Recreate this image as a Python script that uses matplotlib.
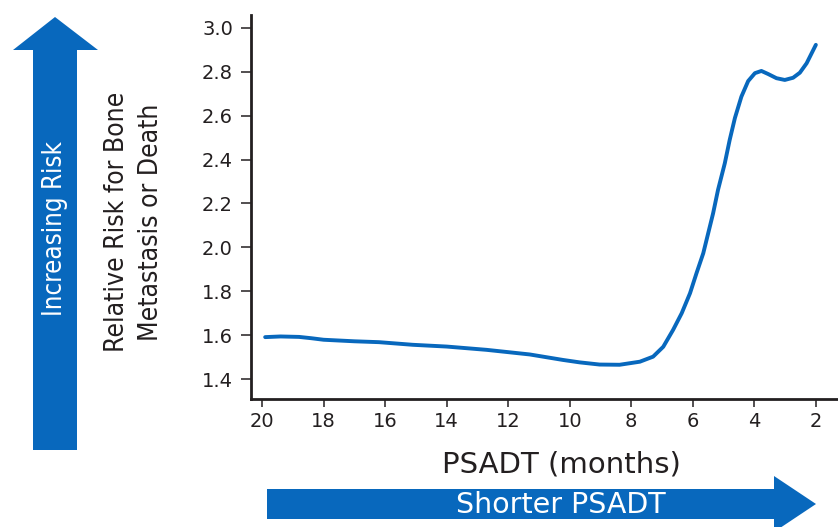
import matplotlib
matplotlib.use("Agg")
import matplotlib.pyplot as plt
from matplotlib.patches import Polygon

# PSADT (months) vs relative risk
psadt = [19.9, 19.4, 18.8, 18.4, 18.0, 17.0, 16.2, 15.1, 14.0, 12.7, 11.3,
         10.22, 9.68, 9.03, 8.38, 7.72, 7.29, 6.96, 6.64, 6.36, 6.09, 5.88,
         5.66, 5.50, 5.34, 5.18, 4.96, 4.80, 4.63, 4.42, 4.20, 3.98, 3.77,
         3.55, 3.28, 3.01, 2.74, 2.52, 2.30, 2.0]
risk = [1.591, 1.594, 1.592, 1.586, 1.579, 1.572, 1.568, 1.556, 1.548, 1.533, 1.512,
        1.487, 1.476, 1.466, 1.465, 1.479, 1.502, 1.547, 1.624, 1.700, 1.791, 1.882,
        1.973, 2.064, 2.155, 2.262, 2.383, 2.49, 2.59, 2.687, 2.758, 2.794, 2.804,
        2.790, 2.771, 2.763, 2.773, 2.796, 2.839, 2.923]

xticks = [20, 18, 16, 14, 12, 10, 8, 6, 4, 2]
yticks = [1.4, 1.6, 1.8, 2.0, 2.2, 2.4, 2.6, 2.8, 3.0]

W, H = 838, 527
BLUE = "#0868bd"
INK = "#231f20"


def fpos(x, y):
    # pixel position (from top-left) -> figure fraction
    return x / W, 1 - y / H


fig = plt.figure(figsize=(W / 100, H / 100), dpi=100)
ax = fig.add_axes([251 / W, 128 / H, 1 - 251 / W, (399 - 15) / H])

ax.plot(psadt, risk, color=BLUE, lw=2.8, solid_capstyle="round",
        solid_joinstyle="round")

ax.set_xlim(20.36, 1.28)
ax.set_ylim(1.309, 3.059)
ax.set_xticks(xticks)
ax.set_yticks(yticks)
ax.set_xticklabels([str(t) for t in xticks])
ax.set_yticklabels(["%.1f" % t for t in yticks])

for side in ["top", "right"]:
    ax.spines[side].set_visible(False)
for side in ["left", "bottom"]:
    ax.spines[side].set_linewidth(2.0)
    ax.spines[side].set_color(INK)

ax.tick_params(axis="x", length=6, width=1.1, pad=3.5, colors=INK, labelsize=14)
ax.tick_params(axis="y", length=7, width=1.1, pad=6, colors=INK, labelsize=14)

# axis labels
fig.text(*fpos(561, 472), "PSADT (months)", ha="center", va="baseline",
         fontsize=21, color=INK)
fig.text(*fpos(134, 222), "Relative Risk for Bone\nMetastasis or Death",
         rotation=90, rotation_mode="anchor", ha="center", va="center",
         multialignment="center", linespacing=1.4, fontsize=19,
         fontstretch="condensed", color=INK)

# vertical arrow: increasing risk
up = [fpos(33, 450), fpos(77, 450), fpos(77, 50), fpos(98, 50),
      fpos(55, 17), fpos(13, 50), fpos(33, 50)]
fig.add_artist(Polygon(up, closed=True, facecolor=BLUE, edgecolor="none",
                       transform=fig.transFigure))
fig.text(*fpos(62, 228), "Increasing Risk", rotation=90, rotation_mode="anchor",
         ha="center", va="baseline", fontsize=18.5, fontstretch="condensed",
         color="white")

# horizontal arrow: shorter PSADT
right = [fpos(267, 489), fpos(774, 489), fpos(774, 476), fpos(816, 504),
         fpos(774, 532), fpos(774, 519), fpos(267, 519)]
fig.add_artist(Polygon(right, closed=True, facecolor=BLUE, edgecolor="none",
                       transform=fig.transFigure))
fig.text(*fpos(561, 513), "Shorter PSADT", ha="center", va="baseline",
         fontsize=20.5, color="white")

fig.savefig("out.png", dpi=100)
